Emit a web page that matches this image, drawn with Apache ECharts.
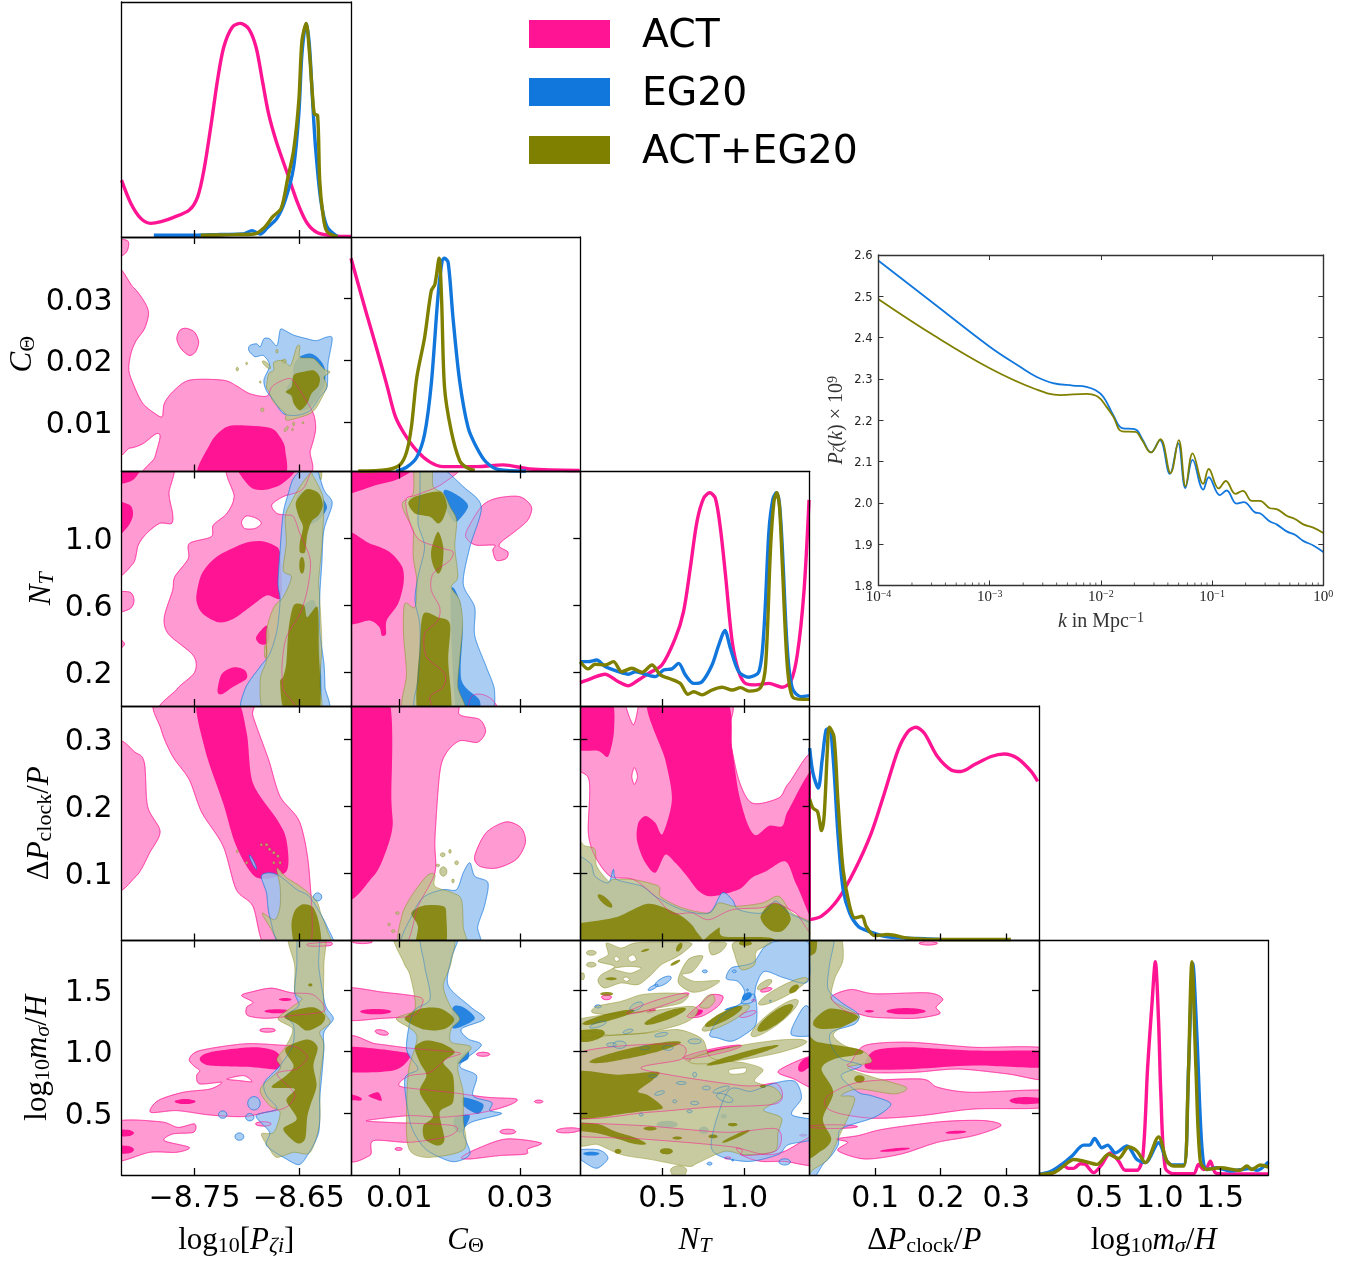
<!DOCTYPE html>
<html><head><meta charset="utf-8"><style>html,body{margin:0;padding:0;background:#fff}#c{width:1372px;height:1264px}</style>
<script src="https://cdn.jsdelivr.net/npm/echarts@6/dist/echarts.min.js"></script></head><body><div id="c"></div><script>
// ===== axis ranges and ticks =====
const rangeP=[-8.82,-8.6], rangeC=[0.002,0.04], rangeN=[0,1.4], rangeD=[0,0.35], rangeM=[0,1.9];
const ticksPx=[-8.75,-8.65], ticksCx=[0.01,0.03], ticksCy=[0.01,0.02,0.03], ticksNx=[0.5,1.0], ticksNy=[0.2,0.6,1.0], ticksD=[0.1,0.2,0.3], ticksM=[0.5,1.0,1.5];
// ===== 1-D marginals: [parameter, normalised density] =====
const act_P=[[-8.82,.266],[-8.811,.157],[-8.8015,.087],[-8.792,.064],[-8.782,.072],[-8.77,.092],[-8.755,.126],[-8.747,.188],[-8.741,.313],[-8.734,.53],[-8.728,.733],[-8.722,.888],[-8.714,.981],[-8.706,1],[-8.698,.974],[-8.691,.888],[-8.685,.733],[-8.679,.577],[-8.672,.453],[-8.661,.297],[-8.651,.157],[-8.642,.064],[-8.632,.02],[-8.616,.005],[-8.6,.002]];
const eg_P=[[-8.789,.008],[-8.75,.008],[-8.725,.012],[-8.703,.014],[-8.695,.03],[-8.687,.014],[-8.68,.045],[-8.671,.087],[-8.663,.173],[-8.655,.328],[-8.65,.577],[-8.647,.86],[-8.643,1],[-8.64,.904],[-8.637,.654],[-8.634,.42],[-8.629,.173],[-8.623,.048],[-8.613,.002]];
const both_P=[[-8.744,.008],[-8.712,.011],[-8.693,.014],[-8.683,.045],[-8.675,.095],[-8.667,.134],[-8.661,.266],[-8.655,.406],[-8.65,.639],[-8.647,.919],[-8.643,1],[-8.64,.873],[-8.637,.669],[-8.635,.575],[-8.632,.569],[-8.63,.266],[-8.627,.11],[-8.623,.025],[-8.613,.002]];
const act_C=[[.002,1],[.0032,.878],[.0046,.738],[.0062,.582],[.0079,.41],[.0093,.262],[.0107,.184],[.0129,.098],[.0151,.044],[.0173,.023],[.0228,.023],[.0272,.031],[.0316,.012],[.0399,.005]];
const eg_C=[[.0095,.002],[.0112,.02],[.0129,.067],[.0142,.176],[.0153,.41],[.0164,.816],[.0171,.988],[.0175,1],[.0181,.98],[.0189,.722],[.02,.426],[.0214,.207],[.0228,.114],[.0244,.044],[.0266,.008],[.031,.002]];
const both_C=[[.0032,.002],[.0079,.008],[.0101,.031],[.0112,.09],[.012,.207],[.0129,.441],[.0142,.629],[.0153,.847],[.0159,.878],[.0166,1],[.017,.816],[.0175,.395],[.0186,.192],[.02,.051],[.0211,.02],[.0225,.005]];
const act_N=[[0,.11],[.07,.13],[.15,.149],[.233,.114],[.294,.095],[.355,.122],[.416,.153],[.498,.192],[.58,.318],[.63,.443],[.671,.646],[.712,.865],[.753,.975],[.79,1],[.824,.975],[.855,.834],[.886,.615],[.927,.302],[.967,.161],[1.008,.106],[1.069,.099],[1.151,.106],[1.233,.088],[1.284,.114],[1.324,.239],[1.365,.537],[1.396,.967]];
const eg_N=[[0,.208],[.049,.208],[.1,.216],[.151,.185],[.233,.161],[.294,.149],[.335,.161],[.396,.149],[.457,.138],[.508,.169],[.559,.174],[.6,.2],[.641,.146],[.692,.106],[.743,.114],[.804,.192],[.845,.286],[.882,.354],[.916,.271],[.967,.161],[1.029,.135],[1.09,.161],[1.12,.349],[1.151,.818],[1.175,.97],[1.196,1],[1.215,.95],[1.233,.74],[1.263,.271],[1.294,.083],[1.345,.044],[1.396,.049]];
const both_N=[[0,.208],[.049,.174],[.09,.196],[.151,.192],[.202,.208],[.253,.161],[.314,.177],[.376,.158],[.437,.192],[.488,.146],[.539,.13],[.61,.106],[.657,.055],[.692,.067],[.743,.052],[.804,.075],[.865,.088],[.927,.075],[.978,.086],[1.029,.07],[1.1,.086],[1.131,.192],[1.161,.74],[1.182,.96],[1.2,1],[1.216,.93],[1.233,.662],[1.263,.192],[1.294,.044],[1.355,.031],[1.396,.031]];
const act_D=[[0,.098],[.018,.114],[.043,.192],[.069,.332],[.094,.504],[.114,.691],[.135,.894],[.15,.98],[.162,1],[.175,.972],[.195,.863],[.216,.8],[.231,.793],[.251,.824],[.277,.863],[.297,.875],[.317,.855],[.338,.793],[.348,.746]];
const eg_D=[[0,.902],[.005,.785],[.013,.715],[.019,.847],[.025,.988],[.03,.995],[.036,.847],[.043,.504],[.051,.239],[.061,.129],[.074,.067],[.089,.044],[.114,.02],[.15,.011],[.175,.009],[.2,.005]];
const both_D=[[0,.663],[.005,.621],[.012,.605],[.018,.516],[.022,.582],[.027,.894],[.03,1],[.037,.956],[.043,.66],[.051,.332],[.061,.161],[.069,.106],[.08,.114],[.086,.067],[.099,.023],[.119,.028],[.15,.011],[.2,.005],[.307,.005]];
const act_M=[[0,.003],[.121,.011],[.19,.05],[.245,.031],[.287,.031],[.342,.053],[.383,.05],[.452,.011],[.521,.05],[.59,.104],[.659,.065],[.714,.022],[.811,.022],[.86,.089],[.899,.502],[.935,.8],[.963,1],[.99,.72],[1.009,.377],[1.045,.034],[1.114,.006],[1.28,.006],[1.321,.05],[1.362,.026],[1.39,.034],[1.418,.065],[1.459,.011],[1.528,.005],[1.9,.005]];
const eg_M=[[0,.003],[.094,.016],[.19,.05],[.273,.089],[.37,.14],[.419,.14],[.46,.171],[.521,.128],[.568,.14],[.632,.104],[.728,.136],[.811,.073],[.88,.058],[.99,.151],[1.059,.065],[1.114,.047],[1.197,.047],[1.238,.502],[1.274,.992],[1.307,.657],[1.349,.128],[1.39,.026],[1.473,.034],[1.583,.019],[1.749,.03],[1.804,.022],[1.9,.062]];
const both_M=[[0,.003],[.121,.011],[.204,.042],[.287,.073],[.37,.065],[.48,.05],[.576,.097],[.659,.078],[.742,.131],[.811,.112],[.88,.058],[.99,.179],[1.059,.065],[1.114,.042],[1.197,.042],[1.23,.346],[1.266,1],[1.299,.502],[1.335,.065],[1.39,.026],[1.5,.034],[1.666,.022],[1.721,.042],[1.762,.026],[1.831,.047],[1.9,.037]];
// ===== inset: primordial spectrum [k, P x 1e9] =====
const spec_eg=[[.0001,2.586],[.000316,2.482],[.001,2.378],[.00186,2.33],[.0026,2.306],[.0037,2.29],[.0056,2.284],[.0074,2.281],[.0089,2.273],[.0105,2.257],[.0129,2.213],[.0155,2.181],[.0204,2.178],[.0234,2.156],[.0282,2.122],[.0339,2.152],[.0417,2.07],[.0495,2.144],[.0575,2.036],[.0668,2.104],[.0832,2.032],[.0933,2.062],[.1175,2.019],[.135,2.03],[.166,1.998],[.193,2.002],[.243,1.977],[.269,1.975],[.331,1.955],[.38,1.948],[.468,1.931],[.556,1.923],[.66,1.908],[.813,1.897],[1,1.881]];
const spec_both=[[.0001,2.493],[.000316,2.405],[.001,2.326],[.0026,2.275],[.0043,2.261],[.0074,2.264],[.0094,2.257],[.0112,2.233],[.0129,2.209],[.0155,2.173],[.0204,2.172],[.0234,2.152],[.0282,2.122],[.0343,2.154],[.0423,2.072],[.0501,2.152],[.0578,2.04],[.0668,2.12],[.0832,2.046],[.0933,2.082],[.1145,2.035],[.133,2.053],[.162,2.022],[.189,2.029],[.228,2.005],[.269,2.005],[.331,1.987],[.38,1.985],[.468,1.969],[.556,1.961],[.66,1.948],[.813,1.94],[1,1.927]];
const kDecades=[.0001,.001,.01,.1,1];
const kMinor=[2e-4,3e-4,4e-4,5e-4,6e-4,7e-4,8e-4,9e-4,2e-3,3e-3,4e-3,5e-3,6e-3,7e-3,8e-3,9e-3,.02,.03,.04,.05,.06,.07,.08,.09,.2,.3,.4,.5,.6,.7,.8,.9];
// ===== 2-D credible contours as [x,y] rings in data units =====
// log10 P vs C_theta
const act_PC_outer=[[[-8.82,.0395],[-8.8155,.0395],[-8.813,.0388],[-8.816,.0374],[-8.82,.0365]],
[[-8.82,.0338],[-8.809,.0319],[-8.798,.0295],[-8.794,.0276],[-8.798,.0251],[-8.806,.0232],[-8.811,.0211],[-8.813,.0184],[-8.8075,.0157],[-8.7995,.013],[-8.788,.0114],[-8.781,.0109],[-8.779,.013],[-8.771,.0149],[-8.755,.0168],[-8.7226,.0168],[-8.71,.0159],[-8.697,.0146],[-8.681,.0142],[-8.676,.0157],[-8.668,.0166],[-8.657,.017],[-8.647,.0146],[-8.639,.0124],[-8.635,.0108],[-8.634,.0086],[-8.639,.0054],[-8.649,.002],[-8.793,.002],[-8.788,.0043],[-8.783,.0076],[-8.787,.0081],[-8.7995,.0065],[-8.812,.0058],[-8.82,.0062]],
[[-8.758,.0252],[-8.75,.0246],[-8.746,.023],[-8.749,.0214],[-8.755,.0208],[-8.763,.0219],[-8.767,.0235],[-8.764,.0249]]];
const act_PC_inner=[[[-8.745,.002],[-8.735,.0065],[-8.7226,.0089],[-8.71,.0095],[-8.678,.0091],[-8.668,.0076],[-8.663,.0054],[-8.668,.002]]];
const eg_PC_outer=[[[-8.697,.0224],[-8.6905,.0227],[-8.687,.0222],[-8.6835,.0235],[-8.678,.0235],[-8.671,.0224],[-8.668,.0249],[-8.665,.025],[-8.655,.0241],[-8.642,.0235],[-8.633,.0232],[-8.623,.0238],[-8.618,.0235],[-8.622,.0195],[-8.623,.0157],[-8.63,.0141],[-8.639,.0119],[-8.652,.0111],[-8.665,.0114],[-8.674,.0135],[-8.681,.0151],[-8.6835,.0168],[-8.678,.0192],[-8.684,.0208],[-8.692,.0206],[-8.698,.0216]]];
const eg_PC_inner=[[[-8.662,.0151],[-8.656,.0173],[-8.655,.0192],[-8.649,.0206],[-8.639,.0211],[-8.631,.0203],[-8.625,.0186],[-8.626,.0157],[-8.639,.0124],[-8.649,.0119],[-8.655,.0135]]];
const both_PC_outer=[[[-8.681,.0157],[-8.679,.0178],[-8.674,.0184],[-8.674,.0197],[-8.665,.02],[-8.658,.0192],[-8.652,.0222],[-8.649,.0223],[-8.649,.0205],[-8.636,.0203],[-8.626,.0186],[-8.62,.0181],[-8.626,.0173],[-8.623,.0159],[-8.626,.0146],[-8.633,.0124],[-8.639,.0114],[-8.649,.0108],[-8.662,.0103],[-8.663,.0114],[-8.674,.0132],[-8.679,.0151]]];
const both_PC_specks=[[-8.709,.0186,.0012,0,.0003],[-8.7,.0195,.001,0,.0002],[-8.687,.0165,.0008,0,.0002],[-8.681,.0193,.004,-.0005,.0004],[-8.662,.0089,.002,.0003,.0003],[-8.656,.0088,.0008,0,.0002],[-8.655,.0097,.001,0,.0003],[-8.646,.0099,.0008,0,.0002],[-8.685,.012,.0015,0,.0003],[-8.671,.0215,.001,0,.0003],[-8.664,.0199,.002,0,.0003]];
const both_PC_inner=[[[-8.6626,.0149],[-8.657,.0157],[-8.655,.0176],[-8.647,.0181],[-8.636,.0184],[-8.63,.0173],[-8.631,.0159],[-8.638,.0146],[-8.642,.013],[-8.649,.0119],[-8.655,.013],[-8.657,.0143]]];
// log10 P vs N_T
const act_PN_outer=[[[-8.82,1.4],[-8.772,1.4],[-8.7745,1.27],[-8.771,1.15],[-8.772,1.09],[-8.7835,1.09],[-8.796,1.03],[-8.804,.96],[-8.809,.85],[-8.82,.8]],
[[-8.82,.67],[-8.812,.68],[-8.808,.63],[-8.812,.58],[-8.82,.56]],
[[-8.82,.42],[-8.817,.37],[-8.82,.32]],
[[-8.716,1.4],[-8.712,1.25],[-8.719,1.15],[-8.732,1.08],[-8.734,1.01],[-8.755,.97],[-8.756,.88],[-8.769,.77],[-8.771,.69],[-8.779,.53],[-8.775,.43],[-8.751,.3],[-8.75,.2],[-8.767,.1],[-8.78,0],[-8.658,0],[-8.665,.1],[-8.666,.25],[-8.662,.41],[-8.649,.55],[-8.642,.69],[-8.639,.87],[-8.649,1.03],[-8.655,1.13],[-8.662,1.14],[-8.671,1.15],[-8.676,1.2],[-8.665,1.25],[-8.647,1.29],[-8.639,1.39],[-8.636,1.4]]];
const act_PN_holes=[[[-8.705,1.1],[-8.7,1.135],[-8.6905,1.12],[-8.686,1.09],[-8.692,1.06],[-8.702,1.06]]];
const act_PN_inner=[[[-8.82,1.21],[-8.812,1.2],[-8.809,1.14],[-8.814,1.07],[-8.82,1]],
[[-8.82,1.4],[-8.801,1.4],[-8.809,1.35],[-8.82,1.33]],
[[-8.708,1.4],[-8.697,1.31],[-8.684,1.29],[-8.668,1.32],[-8.655,1.39],[-8.654,1.4]],
[[-8.748,.67],[-8.743,.79],[-8.729,.89],[-8.703,.97],[-8.687,.985],[-8.674,.96],[-8.668,.91],[-8.667,.65],[-8.681,.66],[-8.697,.59],[-8.713,.52],[-8.727,.5],[-8.742,.55],[-8.7475,.61]],
[[-8.691,.41],[-8.681,.48],[-8.678,.41],[-8.681,.37],[-8.687,.37]],
[[-8.728,.09],[-8.724,.19],[-8.713,.23],[-8.702,.215],[-8.7,.165],[-8.713,.115],[-8.724,.07]]];
const eg_PN_outer=[[[-8.654,1.37],[-8.66,1.27],[-8.665,1.15],[-8.668,.93],[-8.67,.73],[-8.668,.63],[-8.671,.45],[-8.678,.31],[-8.687,.235],[-8.702,.095],[-8.7,-.01],[-8.625,-.01],[-8.625,.115],[-8.626,.255],[-8.63,.45],[-8.63,.65],[-8.628,.85],[-8.626,1.05],[-8.618,1.21],[-8.626,1.29],[-8.636,1.4]]];
const eg_PN_inner=[[[-8.652,1.25],[-8.642,1.29],[-8.63,1.26],[-8.623,1.19],[-8.628,1.13],[-8.636,1.09],[-8.642,1.09],[-8.65,1.15]],
[[-8.662,0],[-8.657,.49],[-8.647,.59],[-8.633,.59],[-8.63,0]]];
const both_PN_outer=[[[-8.639,1.39],[-8.649,1.31],[-8.658,1.21],[-8.663,1.13],[-8.662,.97],[-8.665,.81],[-8.657,.77],[-8.665,.65],[-8.674,.59],[-8.681,.45],[-8.681,.275],[-8.687,.155],[-8.681,0],[-8.631,0],[-8.63,.135],[-8.628,.375],[-8.63,.65],[-8.631,.75],[-8.628,.95],[-8.626,1.19],[-8.628,1.27],[-8.636,1.37]]];
const both_PN_specks=[[-8.682,.325,.001,0,.04],[-8.629,1.38,.001,0,.03]];
const both_PN_inner=[[[-8.653,1.21],[-8.647,1.27],[-8.641,1.295],[-8.631,1.27],[-8.627,1.2],[-8.631,1.14],[-8.638,1.1],[-8.642,1.02],[-8.644,.92],[-8.649,.92],[-8.649,.98],[-8.646,1.07],[-8.65,1.13]],
[[-8.662,.255],[-8.66,.45],[-8.655,.6],[-8.645,.6],[-8.642,.53],[-8.632,.59],[-8.631,.355],[-8.631,0],[-8.662,0],[-8.668,.135],[-8.665,.175]]];
const both_PN_innerBlobs=[[-8.647,.84,.0026,0,.05]];
// C_theta vs N_T
const act_CN_outer=[[[.002,1.4],[.0195,1.4],[.0173,1.33],[.0129,1.26],[.0112,1.24],[.0112,1.17],[.012,1.07],[.0134,.99],[.0173,.94],[.0189,.92],[.0184,.87],[.0156,.79],[.0153,.69],[.0167,.59],[.0164,.51],[.0142,.43],[.0145,.295],[.0175,.195],[.0173,.115],[.0151,.055],[.0145,0],[.002,0]],
[[.0236,1.19],[.0261,1.24],[.0299,1.25],[.0319,1.19],[.0313,1.11],[.0291,1.04],[.0269,.98],[.0266,.95],[.028,.92],[.0277,.88],[.0261,.87],[.0255,.93],[.0258,.96],[.0228,.96],[.0214,.99],[.0211,1.04]],
[[.0217,0],[.0219,.055],[.0236,.07],[.0255,.035],[.0264,0]]];
const act_CN_inner=[[[.002,1.4],[.0126,1.4],[.0101,1.36],[.0062,1.32],[.002,1.27]],
[[.002,1.02],[.0051,.97],[.0084,.92],[.0105,.83],[.0107,.73],[.0098,.61],[.0079,.51],[.0078,.43],[.0071,.42],[.0067,.47],[.0051,.51],[.002,.52]]];
const eg_CN_outer=[[[.0137,1.4],[.0134,1.25],[.0131,1.09],[.0142,.95],[.0131,.77],[.0126,.63],[.0134,.49],[.0134,.295],[.0131,.155],[.0131,0],[.0244,0],[.0258,.085],[.0244,.235],[.0225,.42],[.0225,.59],[.0206,.73],[.0217,.95],[.0236,1.19],[.0206,1.31],[.0162,1.4]]];
const eg_CN_inner=[[[.0175,1.29],[.02,1.25],[.0214,1.19],[.0195,1.1],[.0184,1.13],[.0175,1.21]],
[[.0185,.67],[.02,.63],[.0205,.45],[.0203,.155],[.0233,.035],[.0228,0],[.0195,0]]];
const both_CN_outer=[[[.0126,1.4],[.0153,1.4],[.0156,1.31],[.0173,1.27],[.0184,1.19],[.0195,1.11],[.0192,.95],[.0197,.77],[.0186,.71],[.02,.63],[.0205,.49],[.02,.275],[.0197,.115],[.0206,0],[.0109,0],[.0112,.195],[.0107,.43],[.0109,.61],[.0126,.59],[.0129,.75],[.0123,.89],[.0123,1.05],[.0112,1.13],[.0105,1.21],[.0123,1.27]]];
const both_CN_inner=[[[.0115,1.21],[.0126,1.25],[.0167,1.28],[.0179,1.2],[.0173,1.12],[.0164,1.09],[.0151,1.13],[.0126,1.15]],
[[.0153,.93],[.0164,1.04],[.0173,.95],[.0171,.83],[.0164,.79],[.0155,.85]],
[[.014,.55],[.0164,.53],[.0184,.49],[.0181,.275],[.0184,0],[.0131,0],[.0134,.355]]];
// log10 P vs Delta P
const act_PD_outer=[[[-8.82,.288],[-8.806,.28],[-8.798,.265],[-8.795,.2],[-8.783,.163],[-8.793,.131],[-8.806,.096],[-8.82,.084]],
[[-8.785,.35],[-8.782,.315],[-8.771,.275],[-8.755,.24],[-8.743,.191],[-8.7226,.141],[-8.71,.076],[-8.694,.051],[-8.681,0],[-8.64,0],[-8.64,.101],[-8.649,.176],[-8.668,.215],[-8.679,.27],[-8.694,.335],[-8.697,.35]]];
const act_PD_inner=[[[-8.7475,.35],[-8.74,.285],[-8.7226,.205],[-8.71,.141],[-8.6905,.094],[-8.662,.103],[-8.662,.151],[-8.671,.181],[-8.694,.235],[-8.7,.31],[-8.711,.35]]];
const eg_PD_outer=[[[-8.686,.096],[-8.678,.101],[-8.668,.096],[-8.652,.076],[-8.639,.064],[-8.623,.021],[-8.618,0],[-8.665,0],[-8.678,.036],[-8.681,.071]]];
const eg_PD_blobs=[[-8.694,.117,.0035,-.01,.004],[-8.632,.065,.004,0,.006]];
const both_PD_outer=[[[-8.671,.108],[-8.662,.094],[-8.647,.079],[-8.633,.059],[-8.629,.041],[-8.623,.016],[-8.62,0],[-8.662,0],[-8.678,.021],[-8.685,.041],[-8.673,.031],[-8.668,.051],[-8.668,.081]]];
const both_PD_specks=[[-8.681,.143,.0012,0,.002],[-8.678,.136,.0012,0,.002],[-8.674,.131,.0012,0,.002],[-8.67,.126,.0012,0,.002],[-8.7,.116,.001,0,.002],[-8.686,.143,.001,0,.002],[-8.668,.116,.001,0,.002],[-8.674,.116,.001,0,.002],[-8.709,.133,.001,0,.002]];
const both_PD_inner=[[[-8.657,.021],[-8.654,.044],[-8.646,.054],[-8.636,.049],[-8.63,.021],[-8.63,0],[-8.652,0]]];
// C_theta vs Delta P
const act_CD_outer=[[[.002,.35],[.0184,.35],[.02,.337],[.0233,.33],[.0243,.312],[.023,.296],[.02,.298],[.0178,.28],[.0167,.25],[.0159,.151],[.0159,.101],[.0131,.051],[.0104,0],[.002,0]],
[[.0225,.126],[.0244,.161],[.0277,.177],[.0302,.168],[.0309,.146],[.0294,.121],[.0261,.108],[.0233,.111]]];
const act_CD_inner=[[[.002,.35],[.0082,.35],[.0087,.21],[.0089,.171],[.0079,.136],[.0057,.096],[.002,.074]]];
const eg_CD_outer=[[[.0107,0],[.0123,.041],[.0142,.066],[.0173,.076],[.0195,.076],[.0206,.101],[.0217,.116],[.0225,.096],[.0247,.086],[.0241,.051],[.023,.021],[.0228,0]]];
const both_CD_outer=[[[.0104,0],[.0104,.036],[.012,.066],[.0145,.096],[.0159,.099],[.0159,.081],[.0189,.071],[.0203,.061],[.0206,.021],[.0206,0]]];
const both_CD_specks=[[.0173,.103,.0006,0,.007],[.0172,.128,.0004,0,.003],[.0184,.133,.0002,0,.003],[.0195,.116,.0003,0,.003],[.0189,.089,.0002,0,.003],[.0164,.112,.0003,0,.002],[.0097,.041,.0003,0,.002],[.009,.014,.0003,0,.002],[.0083,.024,.0002,0,.002]];
const both_CD_inner=[[[.012,.041],[.014,.052],[.0173,.051],[.0178,.036],[.0175,.001],[.0129,.001],[.0131,.021]]];
// N_T vs Delta P
const act_ND_outer=[[[0,.35],[.865,.35],[.906,.31],[.967,.24],[1.049,.205],[1.212,.213],[1.273,.235],[1.402,.274],[1.402,.019],[1.314,.041],[1.192,.056],[1.11,.049],[.927,.046],[.784,.031],[.682,.041],[.559,.041],[.457,.066],[.324,.091],[.182,.096],[.09,.126],[.049,.161],[.053,.24],[0,.265]]];
const act_ND_holes=[[[.269,.355],[.355,.355],[.324,.322]],[[.314,.245],[.33,.258],[.349,.245],[.33,.233]]];
const act_ND_inner=[[[0,.35],[.182,.35],[.206,.315],[.171,.275],[.11,.283],[0,.29]],
[[.416,.35],[.876,.35],[.927,.285],[.967,.22],[1.018,.176],[1.069,.157],[1.151,.171],[1.233,.171],[1.273,.196],[1.402,.253],[1.402,.031],[1.324,.081],[1.253,.118],[1.131,.103],[1.049,.094],[.967,.076],[.804,.066],[.722,.074],[.651,.096],[.58,.116],[.518,.128],[.457,.101],[.386,.121],[.345,.151],[.355,.176],[.4,.186],[.457,.176],[.502,.159],[.559,.21],[.518,.27]]];
const eg_ND_outer=[[[0,.118],[.059,.116],[.09,.096],[.171,.086],[.202,.106],[.222,.091],[.376,.081],[.457,.066],[.62,.046],[.784,.041],[.865,.071],[.927,.061],[.967,.046],[1.11,.041],[1.192,.059],[1.273,.041],[1.402,.019],[1.402,-.01],[0,-.01]]];
const both_ND_outer=[[[0,.146],[.029,.141],[.09,.136],[.1,.111],[.171,.089],[.202,.091],[.324,.091],[.478,.081],[.488,.066],[.62,.049],[.784,.041],[.845,.056],[.947,.051],[1.11,.056],[1.212,.066],[1.294,.041],[1.402,.021],[1.402,-.01],[0,-.01]]];
const both_ND_inner=[[[1.1,.036],[1.141,.051],[1.192,.056],[1.253,.049],[1.284,.031],[1.233,.014],[1.171,.014],[1.12,.024]],
[[0,.021],[.09,.029],[.233,.036],[.396,.054],[.488,.051],[.62,.036],[.702,.016],[.702,-.01],[0,-.01]],
[[.743,-.01],[.845,.019],[.876,.006],[1.161,.004],[1.171,-.01]]];
const both_ND_innerBlobs=[[.151,.059,.045,-.008,.006]];
// log10 P vs log10 m
const act_PM_outer=[[[-8.641,1.873],[-8.62,1.886],[-8.62,1.859],[-8.639,1.854]],
[[-8.705,1.454],[-8.694,1.486],[-8.676,1.514],[-8.657,1.476],[-8.636,1.459],[-8.625,1.332],[-8.655,1.292],[-8.681,1.27],[-8.699,1.292],[-8.7,1.359],[-8.694,1.4]],
[[-8.755,.941],[-8.745,1.008],[-8.703,1.062],[-8.671,1.054],[-8.652,1.035],[-8.642,.954],[-8.652,.859],[-8.671,.819],[-8.654,.657],[-8.662,.549],[-8.681,.508],[-8.703,.473],[-8.735,.486],[-8.767,.522],[-8.792,.508],[-8.785,.603],[-8.761,.67],[-8.735,.697],[-8.724,.751],[-8.745,.738],[-8.748,.805],[-8.745,.846],[-8.751,.886]],
[[-8.82,.422],[-8.783,.432],[-8.766,.386],[-8.75,.414],[-8.751,.346],[-8.771,.332],[-8.779,.278],[-8.755,.224],[-8.767,.184],[-8.793,.184],[-8.82,.116]]];
const act_PM_blobs=[[-8.68,1.173,.0075,0,.016],[-8.684,.414,.0075,0,.018]];
const act_PM_holes=[[[-8.719,.778],[-8.703,.805],[-8.695,.757],[-8.707,.765]]];
const act_PM_inner=[[[-8.745,.941],[-8.735,.995],[-8.694,1.035],[-8.671,.995],[-8.666,.859],[-8.694,.873],[-8.735,.886]]];
const act_PM_innerBlobs=[[-8.663,1.422,.006,0,.012],[-8.671,1.327,.012,0,.016],[-8.759,.595,.01,0,.02],[-8.82,.34,.012,0,.03],[-8.82,.205,.012,0,.035]];
const eg_PM_outer=[[[-8.65,1.9],[-8.652,1.697],[-8.654,1.481],[-8.65,1.373],[-8.662,1.292],[-8.655,1.211],[-8.656,1.049],[-8.668,.886],[-8.683,.751],[-8.681,.643],[-8.671,.535],[-8.691,.481],[-8.678,.346],[-8.681,.238],[-8.662,.13],[-8.65,.084],[-8.642,.157],[-8.631,.346],[-8.63,.616],[-8.628,.805],[-8.626,1.022],[-8.626,1.157],[-8.617,1.265],[-8.623,1.346],[-8.626,1.427],[-8.631,1.697],[-8.631,1.9]]];
const eg_PM_blobs=[[-8.693,.581,.006,0,.054],[-8.723,.489,.004,0,.03],[-8.707,.311,.0042,0,.03],[-8.697,.468,.004,0,.03]];
const both_PM_outer=[[[-8.66,1.9],[-8.654,1.697],[-8.654,1.481],[-8.647,1.427],[-8.657,1.359],[-8.67,1.265],[-8.656,1.184],[-8.662,1.049],[-8.671,.941],[-8.668,.859],[-8.687,.697],[-8.678,.562],[-8.668,.508],[-8.674,.346],[-8.686,.332],[-8.678,.211],[-8.671,.143],[-8.655,.184],[-8.639,.184],[-8.63,.427],[-8.63,.751],[-8.626,1.049],[-8.63,1.157],[-8.62,1.238],[-8.626,1.346],[-8.626,1.697],[-8.626,1.9]]];
const both_PM_inner=[[[-8.664,1.278],[-8.655,1.332],[-8.636,1.359],[-8.625,1.292],[-8.628,1.224],[-8.642,1.17],[-8.652,1.224]],
[[-8.663,1.022],[-8.642,1.097],[-8.632,1.035],[-8.636,.886],[-8.633,.724],[-8.639,.562],[-8.642,.468],[-8.644,.292],[-8.652,.259],[-8.665,.373],[-8.652,.454],[-8.662,.603],[-8.654,.697],[-8.676,.711],[-8.662,.805],[-8.655,.886]]];
const both_PM_innerBlobs=[[-8.639,1.54,.002,0,.012]];
// C_theta vs log10 m
const act_CM_outer=[[[.002,1.508],[.0073,1.481],[.0134,1.441],[.0137,1.373],[.0123,1.292],[.0073,1.27],[.002,1.265]],
[[.002,1.076],[.0062,1.062],[.0118,1.027],[.02,.989],[.0178,.941],[.0151,.832],[.0118,.805],[.0101,.751],[.0107,.711],[.0184,.67],[.0244,.63],[.0294,.616],[.0283,.568],[.0239,.508],[.0173,.468],[.0118,.481],[.0046,.441],[.0079,.427],[.0189,.4],[.0184,.319],[.0118,.265],[.0057,.278],[.0051,.157],[.002,.17]],
[[.0203,.143],[.0228,.211],[.0277,.292],[.0335,.259],[.0313,.211],[.031,.17],[.0266,.157],[.0217,.13]]];
const act_CM_blobs=[[.0039,1.89,.0016,0,.015],[.0071,1.155,.0011,-.01,.02],[.0239,.978,.0011,0,.016],[.0331,.595,.0007,0,.012],[.028,.351,.0013,0,.02],[.038,.362,.002,.005,.02],[.0099,.211,.0006,0,.012]];
const act_CM_inner=[[[.002,1.035],[.0107,.995],[.0118,.954],[.009,.846],[.002,.846]],
[[.002,.67],[.0035,.63],[.0035,.603],[.002,.616]],
[[.0049,.643],[.0065,.67],[.0071,.603],[.006,.616]]];
const act_CM_innerBlobs=[[.0061,1.324,.0026,0,.022]];
const eg_CM_outer=[[[.0137,1.9],[.0142,1.697],[.0151,1.427],[.0123,1.319],[.0112,1.022],[.0131,.859],[.0109,.778],[.0118,.427],[.0134,.265],[.0151,.184],[.0189,.108],[.0217,.17],[.0206,.346],[.0219,.427],[.0269,.495],[.025,.522],[.0253,.589],[.0222,.643],[.0228,.805],[.02,.886],[.0236,1.049],[.0214,1.103],[.0203,1.184],[.0241,1.265],[.0219,1.359],[.0181,1.535],[.0186,1.751],[.0197,1.9]]];
const eg_CM_inner=[[[.0189,1.359],[.0206,1.359],[.0225,1.265],[.0189,1.189]],
[[.0197,.927],[.0214,1.008],[.0214,.941],[.0197,.9]],
[[.0206,.63],[.0239,.576],[.023,.495],[.0206,.562]],
[[.0192,.468],[.0217,.481],[.0203,.346],[.0192,.373]]];
const both_CM_outer=[[[.0093,1.9],[.0186,1.9],[.0186,1.724],[.0173,1.535],[.0184,1.373],[.02,1.265],[.0186,1.184],[.0186,1.076],[.0219,1.035],[.0197,.886],[.0206,.67],[.0206,.454],[.0208,.211],[.0151,.143],[.012,.184],[.0112,.346],[.0115,.832],[.0129,1.13],[.0095,1.265],[.0126,1.346],[.0118,1.616],[.0107,1.724]]];
const both_CM_inner=[[[.0109,1.265],[.0134,1.346],[.0167,1.351],[.0191,1.265],[.0175,1.184],[.0142,1.178]],
[[.0126,1.035],[.0145,1.089],[.0173,1.062],[.0192,.995],[.0173,.914],[.0189,.805],[.0189,.589],[.0167,.508],[.0175,.292],[.0164,.238],[.0142,.292],[.014,.4],[.0156,.481],[.0134,.67],[.0145,.805],[.0134,.914]]];
// N_T vs log10 m
const act_NM_outer=[[[0,.968],[.58,1.062],[.62,.941],[.376,.859],[.988,.724],[1.2,.74],[1.2,.58],[.784,.549],[.416,.508],[0,.481]],
[[0,.414],[.376,.4],[.886,.346],[1.2,.373],[1.2,.2],[.988,.157],[.947,.224],[.376,.292],[0,.319]],
[[.653,1.285],[.739,1.394],[.8,1.461],[.871,1.447],[.84,1.367],[.739,1.285]],
[[1.207,.84],[1.37,.948],[1.402,.948],[1.402,.7],[1.3,.78]],
[[.956,.219],[1.125,.165],[1.247,.192],[1.395,.327],[1.402,.084],[1.247,.11],[1.105,.11],[1.003,.15]]];
const act_NM_blobs=[[1.023,1.304,.05,.02,.02],[1.135,1.5,.035,.01,.015],[1.058,1.415,.012,0,.008],[.474,1.39,.19,.08,.03],[.9,.138,.02,0,.008],[.805,.997,.18,.05,.025],[.16,1.44,.03,0,.02]];
const act_NM_innerBlobs=[[.433,1.326,.03,.01,.014],[.708,1.313,.04,.015,.025],[.805,.997,.18,.05,.015],[1.369,.894,.04,.03,.05],[1.36,.322,.025,0,.012],[.657,.935,.02,0,.015]];
const eg_NM_outer=[[[1.156,1.88],[1.389,1.888],[1.389,1.569],[1.247,1.596],[1.125,1.65],[1.074,1.542],[1.054,1.407],[.983,1.394],[1.003,1.488],[.962,1.569],[.891,1.591],[.921,1.677],[1.003,1.699],[1.064,1.731]],
[[.789,1.137],[.86,1.286],[.983,1.394],[1.064,1.461],[1.074,1.232],[1.003,1.137],[.921,1.083],[.84,1.11]],
[[1.288,1.137],[1.339,1.313],[1.389,1.366],[1.402,1.15]],
[[.9,.678],[1.044,.678],[1.186,.745],[1.309,.759],[1.35,.624],[1.29,.489],[1.402,.435],[1.402,.3],[1.27,.246],[1.206,.165],[1.003,.11],[.8,.219]],
[[0,.192],[.108,.205],[.169,.138],[.108,.057],[.047,.084]]];
const eg_NM_blobs=[[.342,1.366,.04,.02,.03],[.505,1.569,.05,.03,.03],[.76,1.65,.015,0,.012],[.444,1.52,.03,.02,.015],[.108,1.366,.02,0,.012],[.24,1.056,.04,0,.03],[1.247,.106,.035,0,.025],[.789,.092,.015,0,.012],[.93,.12,.006,0,.006],[.94,1.65,.012,0,.01],[1.02,1.5,.006,0,.008],[1.16,1.41,.006,0,.007],
[.616,.745,.03,0,.012],[.698,.813,.012,0,.02],[.769,.705,.025,0,.015],[.484,.664,.03,.01,.015],[.576,.597,.012,0,.012],[.698,.583,.025,0,.014],[.372,.489,.012,0,.012],[.443,.8,.025,0,.012],[.86,.692,.05,.02,.02],[.881,.624,.05,-.02,.03],[.667,.516,.015,0,.012],
[.19,1.056,.03,0,.015],[.393,1.03,.03,0,.015],[.535,1.03,.03,0,.02],[.698,1.083,.04,0,.02],[.291,1.164,.03,.01,.015],[.108,1.218,.05,.02,.02],[.494,1.137,.04,.01,.015]];
const eg_NM_innerBlobs=[[.53,.41,.065,0,.03],[.754,.362,.03,0,.03],[.875,.476,.018,0,.018],[.067,.173,.05,0,.016],[1.017,1.447,.03,.015,.03],[.93,1.353,.05,.015,.012]];
const both_NM_outer=[[[0,1.11],[.19,1.132],[.393,1.15],[.596,1.178],[.745,1.1],[.8,.948],[1.003,.908],[1.115,.854],[1.064,.759],[1.186,.705],[1.227,.624],[1.15,.56],[1.12,.52],[1.227,.462],[1.206,.34],[1.186,.192],[1.003,.165],[.881,.192],[.718,.098],[.657,.07],[.433,.125],[.25,.165],[.108,.246],[0,.3]],
[[.108,1.731],[.169,1.785],[.159,1.88],[.25,1.839],[.332,1.88],[.494,1.888],[.677,1.88],[.637,1.812],[.576,1.758],[.494,1.704],[.433,1.623],[.352,1.542],[.25,1.556],[.149,1.515],[.108,1.569],[.128,1.623],[.21,1.69]],
[[.942,1.888],[1.166,1.888],[1.074,1.812],[1.064,1.704],[.983,1.664],[.942,1.785]],
[[.789,1.88],[.891,1.88],[.86,1.812],[.8,1.785]],
[[.657,1.745],[.749,1.772],[.688,1.65],[.621,1.623],[.698,1.569],[.85,1.574],[.769,1.502],[.678,1.483],[.596,1.569]],
[[.078,1.313],[.098,1.366],[.25,1.407],[.373,1.461],[.535,1.475],[.657,1.461],[.616,1.394],[.474,1.353],[.25,1.299]],
[[.728,1.366],[.769,1.447],[.81,1.461],[.82,1.407],[.779,1.353]],
[[.006,1.245],[.23,1.313],[.373,1.321],[.657,1.366],[.718,1.34],[.688,1.272],[.596,1.213],[.393,1.15],[.19,1.132],[.006,1.11]]];
const both_NM_holes=[[[.2,1.672],[.291,1.69],[.373,1.677],[.311,1.636],[.25,1.65]],
[[.291,1.758],[.322,1.785],[.342,1.745],[.311,1.726]],
[[.206,1.753],[.22,1.772],[.24,1.745],[.22,1.731]],
[[.26,1.59],[.281,1.604],[.301,1.583],[.281,1.569]],
[[.911,.853],[1.009,.867],[1,.827],[.92,.818]]];
const both_NM_blobs=[[.067,1.8,.03,0,.02],[.067,1.704,.03,0,.02],[.006,1.61,.02,0,.03],[.888,1.272,.145,.095,.05],[1.186,1.272,.145,.135,.07],[1.237,1.488,.15,.1,.05],[1.125,1.542,.045,.03,.03],[1.023,1,.36,.08,.06],[.6,.035,.05,0,.04]];
const both_NM_inner=[[[0,.826],[.23,.813],[.474,.835],[.443,.772],[.352,.678],[.413,.646],[.504,.543],[.373,.516],[.25,.494],[.108,.467],[0,.475]],
[[0,.422],[.108,.413],[.21,.354],[.342,.3],[.403,.251],[.332,.251],[.21,.3],[.098,.34],[0,.368]]];
const both_NM_innerBlobs=[[.518,1.286,.127,.06,.035],[.875,1.284,.115,.075,.04],[1.19,1.273,.11,.095,.06],[1.304,1.508,.03,.02,.03],[.171,1.278,.16,.055,.03],[.05,1.13,.1,.02,.05],[.99,.97,.22,.08,.025],[.335,.995,.28,.08,.04],[.525,.192,.04,0,.025],[.426,.376,.04,0,.016],[.592,.3,.03,0,.012],[.81,.313,.028,0,.016],[.93,.408,.03,0,.014],[.95,.313,.085,.05,.016],[.23,.192,.02,0,.02],[1.115,.718,.02,0,.012],[1.008,1.878,.04,0,.02],[.604,1.846,.02,.02,.03],[.161,1.468,.04,0,.015],[.396,1.82,.025,.01,.01],[.188,1.59,.035,0,.012],[.58,1.72,.03,.02,.015]];
// Delta P vs log10 m
const act_DM_outer=[[[.033,1.441],[.063,1.503],[.099,1.468],[.18,1.476],[.203,1.427],[.193,1.359],[.198,1.305],[.16,1.27],[.099,1.278],[.074,1.305],[.053,1.332]],
[[.063,.914],[.084,1.049],[.15,1.076],[.251,1.035],[.352,1.022],[.352,.778],[.302,.819],[.226,.859],[.16,.832],[.089,.832],[.058,.886]],
[[.028,.643],[.074,.751],[.17,.778],[.195,.711],[.246,.67],[.352,.684],[.352,.549],[.251,.535],[.17,.481],[.099,.459],[.048,.495],[.025,.549]],
[[.041,.292],[.074,.319],[.114,.373],[.2,.432],[.266,.441],[.292,.4],[.251,.319],[.195,.265],[.14,.17],[.084,.13],[.043,.197],[.058,.265]]];
const act_DM_blobs=[[.181,1.878,.014,0,.015],[.036,.392,.037,0,.015]];
const act_DM_inner=[[[.084,.9],[.099,1.008],[.15,1.035],[.251,1.008],[.352,1],[.352,.873],[.251,.886],[.16,.859],[.094,.854]]];
const act_DM_innerBlobs=[[.147,1.327,.03,0,.025],[.091,1.327,.007,0,.01],[.33,.603,.025,0,.03],[.13,.205,.023,.012,.012],[.223,.346,.016,.004,.012]];
const eg_DM_outer=[[[0,1.9],[.036,1.9],[.03,1.697],[.028,1.508],[.048,1.4],[.074,1.305],[.069,1.224],[.033,1.157],[.033,1.049],[.048,.941],[.079,.886],[.048,.805],[.074,.67],[.094,.643],[.124,.576],[.099,.468],[.048,.373],[.043,.238],[.023,.103],[0,.022]]];
const both_DM_outer=[[[0,1.9],[.043,1.9],[.051,1.751],[.038,1.589],[.033,1.427],[.053,1.359],[.076,1.278],[.048,1.197],[.036,1.13],[.053,1.049],[.084,.995],[.094,.914],[.058,.873],[.089,.805],[.147,.711],[.129,.657],[.074,.697],[.048,.643],[.069,.616],[.048,.346],[.028,.13],[.003,.035],[0,0]]];
const both_DM_inner=[[[.008,1.265],[.028,1.346],[.053,1.332],[.074,1.278],[.048,1.197],[.018,1.184],[.006,1.211]],
[[0,1.103],[.013,1.076],[.074,1.022],[.079,.981],[.038,.941],[.018,.859],[.036,.67],[.02,.454],[.033,.292],[.018,.197],[0,.184]],
[[0,1.9],[.009,1.9],[.009,1.805],[0,1.778]]];
const both_DM_innerBlobs=[[.076,.778,.008,0,.03]];

// ===== layout and styles =====
const PINK='#ff1493', BLUE='#1177dd', OLIVE='#808000';
const FILL_ACT='rgba(255,137,202,.85)', FILL_EG='rgba(155,196,241,.85)', FILL_BOTH='rgba(190,194,143,.85)';
const colX=[121.5,351,580.3,809.7,1039,1268.5], rowY=[2,237,471.5,706,940.5,1175];
const yNameGap={C:82,N:63,D:65,M:67};
const LW=1.3, TL=7, TC='#000', FS=30;
const rich={r:{fontFamily:'Liberation Serif',fontSize:31,lineHeight:33},i:{fontFamily:'Liberation Serif',fontStyle:'italic',fontSize:31,lineHeight:33},
 s:{fontFamily:'Liberation Serif',fontSize:22,verticalAlign:'bottom',lineHeight:22},si:{fontFamily:'Liberation Serif',fontStyle:'italic',fontSize:22,verticalAlign:'bottom',lineHeight:22}};
const labelP='{r|log}{s|10}{r|[}{i|P}{si|ζi}{r|]}', labelC='{i|C}{s|Θ}', labelN='{i|N}{si|T}', labelD='{r|Δ}{i|P}{s|clock}{r|/}{i|P}', labelM='{r|log}{s|10}{i|m}{si|σ}{r|/}{i|H}';
const dims=[{k:'P',range:rangeP,xt:ticksPx,yt:ticksPx,label:labelP},{k:'C',range:rangeC,xt:ticksCx,yt:ticksCy,label:labelC},{k:'N',range:rangeN,xt:ticksNx,yt:ticksNy,label:labelN},{k:'D',range:rangeD,xt:ticksD,yt:ticksD,label:labelD},{k:'M',range:rangeM,xt:ticksM,yt:ticksM,label:labelM}];
const grids=[],xAxes=[],yAxes=[],series=[];
const line={show:true,onZero:false,lineStyle:{color:TC,width:LW}};
function ticks(vals){return {show:!!vals,inside:true,length:TL,customValues:vals||[],lineStyle:{color:TC,width:LW}};}
const panelIdx={};
for(let r=0;r<5;r++)for(let c=0;c<=r;c++){
  const g=grids.length; const xd=dims[c], diag=r===c; const yd=diag?{range:[0,1.1]}:dims[r];
  grids.push({left:colX[c],top:rowY[r],width:colX[c+1]-colX[c],height:rowY[r+1]-rowY[r],show:false,outerBoundsMode:'none'});
  const bottom=r===4;
  const xi=xAxes.length;
  const xf=(c===1)?(v=>v.toFixed(2)):(v=>(v<0?'\u2212':'')+Math.abs(v).toFixed(c===0?2:1));
  xAxes.push({type:'value',gridIndex:g,position:'bottom',min:xd.range[0],max:xd.range[1],z:10,axisLine:line,splitLine:{show:false},axisTick:ticks(xd.xt),
    axisLabel:bottom?{show:true,customValues:xd.xt,margin:9,formatter:xf,fontFamily:'DejaVu Sans',fontSize:FS,color:'#000'}:{show:false},
    name:bottom?xd.label:'',nameLocation:'middle',nameGap:49,nameTextStyle:{rich,color:'#000'}});
  const hasTop=!diag&&!(r===4&&c===3);
  xAxes.push({type:'value',gridIndex:g,position:'top',min:xd.range[0],max:xd.range[1],z:10,axisLine:line,splitLine:{show:false},axisTick:ticks(hasTop?xd.xt:null),axisLabel:{show:false}});
  const yi=yAxes.length;
  const leftTicks=(c===2&&r>=3);
  const yf=r===1?(v=>'{a|'+v.toFixed(2)+'}'):(v=>'{a|'+v.toFixed(1)+'}');
  yAxes.push({type:'value',gridIndex:g,position:'left',min:yd.range[0],max:yd.range[1],z:10,axisLine:line,splitLine:{show:false},axisTick:ticks(!diag&&leftTicks?yd.yt:null),
    axisLabel:(c===0&&!diag)?{show:true,customValues:yd.yt,margin:9,formatter:yf,rich:{a:{fontFamily:'DejaVu Sans',fontSize:FS,color:'#000',padding:[6,0,0,0]}}}:{show:false},
    name:(c===0&&!diag)?yd.label:'',nameLocation:'middle',nameGap:(c===0&&!diag)?yNameGap[yd.k]:10,nameTextStyle:{rich,color:'#000'}});
  yAxes.push({type:'value',gridIndex:g,position:'right',min:yd.range[0],max:yd.range[1],z:10,axisLine:line,splitLine:{show:false},axisTick:ticks(!diag?yd.yt:null),axisLabel:{show:false}});
  panelIdx[diag?xd.k+'_d':xd.k+dims[r].k]={x:xi,y:yi};
}
function catmull(pts,k){
  const n=pts.length; let d='M'+pts[0][0].toFixed(1)+' '+pts[0][1].toFixed(1);
  for(let i=0;i<n;i++){
    const p0=pts[(i-1+n)%n],p1=pts[i],p2=pts[(i+1)%n],p3=pts[(i+2)%n];
    const c1=[p1[0]+(p2[0]-p0[0])*k/6,p1[1]+(p2[1]-p0[1])*k/6],c2=[p2[0]-(p3[0]-p1[0])*k/6,p2[1]-(p3[1]-p1[1])*k/6];
    d+='C'+c1[0].toFixed(1)+' '+c1[1].toFixed(1)+' '+c2[0].toFixed(1)+' '+c2[1].toFixed(1)+' '+p2[0].toFixed(1)+' '+p2[1].toFixed(1);
  }
  return d+'Z';
}
function area(p){let a=0;for(let i=0;i<p.length;i++){const q=p[(i+1)%p.length];a+=p[i][0]*q[1]-q[0]*p[i][1];}return a;}
function blobRing(b){const r=[];for(let j=0;j<12;j++){const t=j/12*2*Math.PI;r.push([b[0]+b[2]*Math.cos(t),b[1]+b[3]*Math.cos(t)+b[4]*Math.sin(t)]);}return r;}
function contour(ax,rings,blobs,holes,fill,stroke,z){
  const all=(rings||[]).concat((blobs||[]).map(blobRing));
  if(!all.length)return;
  series.push({type:'custom',xAxisIndex:ax.x,yAxisIndex:ax.y,clip:true,silent:true,z:z||2,animation:false,data:[all[0][0]],
    renderItem(params,api){
      const cs=params.coordSys;
      const toPx=ring=>ring.map(p=>{const q=api.coord(p);
        if(q[0]<=cs.x+1)q[0]=cs.x-8; if(q[0]>=cs.x+cs.width-1)q[0]=cs.x+cs.width+8;
        if(q[1]<=cs.y+1)q[1]=cs.y-8; if(q[1]>=cs.y+cs.height-1)q[1]=cs.y+cs.height+8; return q;});
      let d='';
      all.forEach(rg=>{const px=toPx(rg); if(area(px)<0)px.reverse(); d+=catmull(px,0.85);});
      (holes||[]).forEach(rg=>{const px=toPx(rg); if(area(px)>0)px.reverse(); d+=catmull(px,0.85);});
      return {type:'path',shape:{pathData:d},style:{fill:fill||'none',stroke:stroke||null,lineWidth:stroke?0.9:0}};
    }});
}
const rgba=(h,a)=>{const n=parseInt(h.slice(1),16);return `rgba(${n>>16},${(n>>8)&255},${n&255},${a})`;};
function panel(ax,d){
  contour(ax,d.ao,d.aob,d.ah,FILL_ACT,rgba(PINK,.45));
  contour(ax,d.ai,d.aib,null,PINK,null);
  contour(ax,d.eo,d.eob,null,FILL_EG,rgba(BLUE,.4));
  contour(ax,d.ei,d.eib,null,rgba(BLUE,.85),null);
  contour(ax,d.bo,d.bob,d.bh,FILL_BOTH,rgba(OLIVE,.45));
  contour(ax,d.bi,d.bib,null,rgba(OLIVE,.85),null);
  contour(ax,d.ao,d.aob,d.ah,null,rgba(PINK,.55),3);
  contour(ax,d.eo,d.eob,null,null,rgba(BLUE,.45),3);
}
panel(panelIdx.PC,{ao:act_PC_outer,ai:act_PC_inner,eo:eg_PC_outer,ei:eg_PC_inner,bo:both_PC_outer,bob:both_PC_specks,bi:both_PC_inner});
panel(panelIdx.PN,{ao:act_PN_outer,ah:act_PN_holes,ai:act_PN_inner,eo:eg_PN_outer,ei:eg_PN_inner,bo:both_PN_outer,bob:both_PN_specks,bi:both_PN_inner,bib:both_PN_innerBlobs});
panel(panelIdx.CN,{ao:act_CN_outer,ai:act_CN_inner,eo:eg_CN_outer,ei:eg_CN_inner,bo:both_CN_outer,bi:both_CN_inner});
panel(panelIdx.PD,{ao:act_PD_outer,ai:act_PD_inner,eo:eg_PD_outer,eob:eg_PD_blobs,bo:both_PD_outer,bob:both_PD_specks,bi:both_PD_inner});
panel(panelIdx.CD,{ao:act_CD_outer,ai:act_CD_inner,eo:eg_CD_outer,bo:both_CD_outer,bob:both_CD_specks,bi:both_CD_inner});
panel(panelIdx.ND,{ao:act_ND_outer,ah:act_ND_holes,ai:act_ND_inner,eo:eg_ND_outer,bo:both_ND_outer,bi:both_ND_inner,bib:both_ND_innerBlobs});
panel(panelIdx.PM,{ao:act_PM_outer,aob:act_PM_blobs,ah:act_PM_holes,ai:act_PM_inner,aib:act_PM_innerBlobs,eo:eg_PM_outer,eob:eg_PM_blobs,bo:both_PM_outer,bi:both_PM_inner,bib:both_PM_innerBlobs});
panel(panelIdx.CM,{ao:act_CM_outer,aob:act_CM_blobs,ai:act_CM_inner,aib:act_CM_innerBlobs,eo:eg_CM_outer,ei:eg_CM_inner,bo:both_CM_outer,bi:both_CM_inner});
panel(panelIdx.NM,{ao:act_NM_outer,aob:act_NM_blobs,aib:act_NM_innerBlobs,eo:eg_NM_outer,eob:eg_NM_blobs,eib:eg_NM_innerBlobs,bo:both_NM_outer,bob:both_NM_blobs,bh:both_NM_holes,bi:both_NM_inner,bib:both_NM_innerBlobs});
panel(panelIdx.DM,{ao:act_DM_outer,aob:act_DM_blobs,ai:act_DM_inner,aib:act_DM_innerBlobs,eo:eg_DM_outer,bo:both_DM_outer,bi:both_DM_inner,bib:both_DM_innerBlobs});
function curve(ax,name,data,color,w){series.push({type:'line',name,xAxisIndex:ax.x,yAxisIndex:ax.y,data,showSymbol:false,smooth:0.3,silent:true,animation:false,z:4,itemStyle:{color},lineStyle:{color,width:w}});}
[[ 'P_d',act_P,eg_P,both_P],['C_d',act_C,eg_C,both_C],['N_d',act_N,eg_N,both_N],['D_d',act_D,eg_D,both_D],['M_d',act_M,eg_M,both_M]].forEach(t=>{
  curve(panelIdx[t[0]],'ACT',t[1],PINK,3.4);curve(panelIdx[t[0]],'EG20',t[2],BLUE,3.4);curve(panelIdx[t[0]],'ACT+EG20',t[3],OLIVE,3.4);});
// inset
const ig=grids.length, IC='#333';
grids.push({left:878.5,top:255,width:444.8,height:330.5,show:false,outerBoundsMode:'none'});
const iline={show:true,onZero:false,lineStyle:{color:IC,width:1.4}};
const ix=xAxes.length;
const expLabel=v=>'{b|10}{e|'+String(Math.round(Math.log10(v))).replace('-','\u2212')+'}';
xAxes.push({type:'log',logBase:10,gridIndex:ig,position:'bottom',min:1e-4,max:1,z:10,axisLine:iline,splitLine:{show:false},axisTick:{inside:true,length:5,customValues:kDecades,lineStyle:{color:IC,width:1}},
  axisLabel:{show:true,customValues:kDecades,margin:4,showMinLabel:true,showMaxLabel:true,formatter:expLabel,rich:{b:{fontFamily:'Liberation Serif',fontSize:15,color:'#222'},e:{fontFamily:'Liberation Serif',fontSize:10,verticalAlign:'top',color:'#222',lineHeight:10,padding:[0,0,4,0]}}},
  name:'{i|k}{r| in Mpc}{e|\u22121}',nameLocation:'middle',nameGap:26,nameTextStyle:{rich:{i:{fontFamily:'Liberation Serif',fontStyle:'italic',fontSize:20},r:{fontFamily:'Liberation Serif',fontSize:20},e:{fontFamily:'Liberation Serif',fontSize:14,verticalAlign:'top',padding:[0,0,6,0]}}}});
xAxes.push({type:'log',logBase:10,gridIndex:ig,position:'top',min:1e-4,max:1,z:10,axisLine:iline,splitLine:{show:false},axisTick:{inside:true,length:5,customValues:kDecades,lineStyle:{color:IC,width:1}},axisLabel:{show:false}});
const iy=yAxes.length;
yAxes.push({type:'value',gridIndex:ig,position:'left',min:1.8,max:2.6,interval:0.1,z:10,axisLine:iline,splitLine:{show:false},axisTick:{inside:true,length:5,lineStyle:{color:IC,width:1}},
  axisLabel:{show:true,margin:6,formatter:v=>'{a|'+v.toFixed(1)+'}',rich:{a:{fontFamily:'DejaVu Sans',fontSize:11.5,color:'#222',padding:[3,0,0,0]}}},
  name:'{i|P}{si|ζ}{r|(}{i|k}{r|) × 10}{e|9}',nameLocation:'middle',nameGap:32,nameTextStyle:{rich:{i:{fontFamily:'Liberation Serif',fontStyle:'italic',fontSize:20},r:{fontFamily:'Liberation Serif',fontSize:20},si:{fontFamily:'Liberation Serif',fontStyle:'italic',fontSize:14,verticalAlign:'bottom'},e:{fontFamily:'Liberation Serif',fontSize:14,verticalAlign:'top',padding:[0,0,6,0]}}}});
yAxes.push({type:'value',gridIndex:ig,position:'right',min:1.8,max:2.6,interval:0.1,z:10,axisLine:iline,splitLine:{show:false},axisTick:{inside:true,length:5,lineStyle:{color:IC,width:1}},axisLabel:{show:false}});
series.push({type:'line',xAxisIndex:ix,yAxisIndex:iy,data:spec_eg,showSymbol:false,smooth:0.4,silent:true,animation:false,z:4,itemStyle:{color:BLUE},lineStyle:{color:BLUE,width:1.8}});
series.push({type:'line',xAxisIndex:ix,yAxisIndex:iy,data:spec_both,showSymbol:false,smooth:0.4,silent:true,animation:false,z:4,itemStyle:{color:OLIVE},lineStyle:{color:OLIVE,width:1.8}});
// minor log ticks of the inset, placed through the log axis
series.push({type:'custom',xAxisIndex:ix,yAxisIndex:iy,silent:true,animation:false,z:9,data:kMinor.map(k=>[k,1.8]),
  renderItem(params,api){const p=api.coord([api.value(0),api.value(1)]);
    return {type:'line',shape:{x1:p[0],y1:p[1],x2:p[0],y2:p[1]-3},style:{stroke:IC,lineWidth:.8}};}});
const legendNames=['ACT','EG20','ACT+EG20'], legendColors=[PINK,BLUE,OLIVE];
const chart=echarts.init(document.getElementById('c'),null,{renderer:'canvas',width:1372,height:1264});
chart.setOption({animation:false,backgroundColor:'#fff',grid:grids,xAxis:xAxes,yAxis:yAxes,series,
  legend:{show:true,orient:'vertical',left:529,top:17.5,padding:0,itemWidth:81,itemHeight:28,itemGap:19,icon:'rect',selectedMode:false,
    formatter:n=>'{a|'+n+'}',
    textStyle:{color:'#000',rich:{a:{fontFamily:'DejaVu Sans',fontSize:39.3,color:'#000',padding:[6,0,0,27]}}},
    data:legendNames.map((n,i)=>({name:n,itemStyle:{color:legendColors[i]}}))}});
</script></body></html>
